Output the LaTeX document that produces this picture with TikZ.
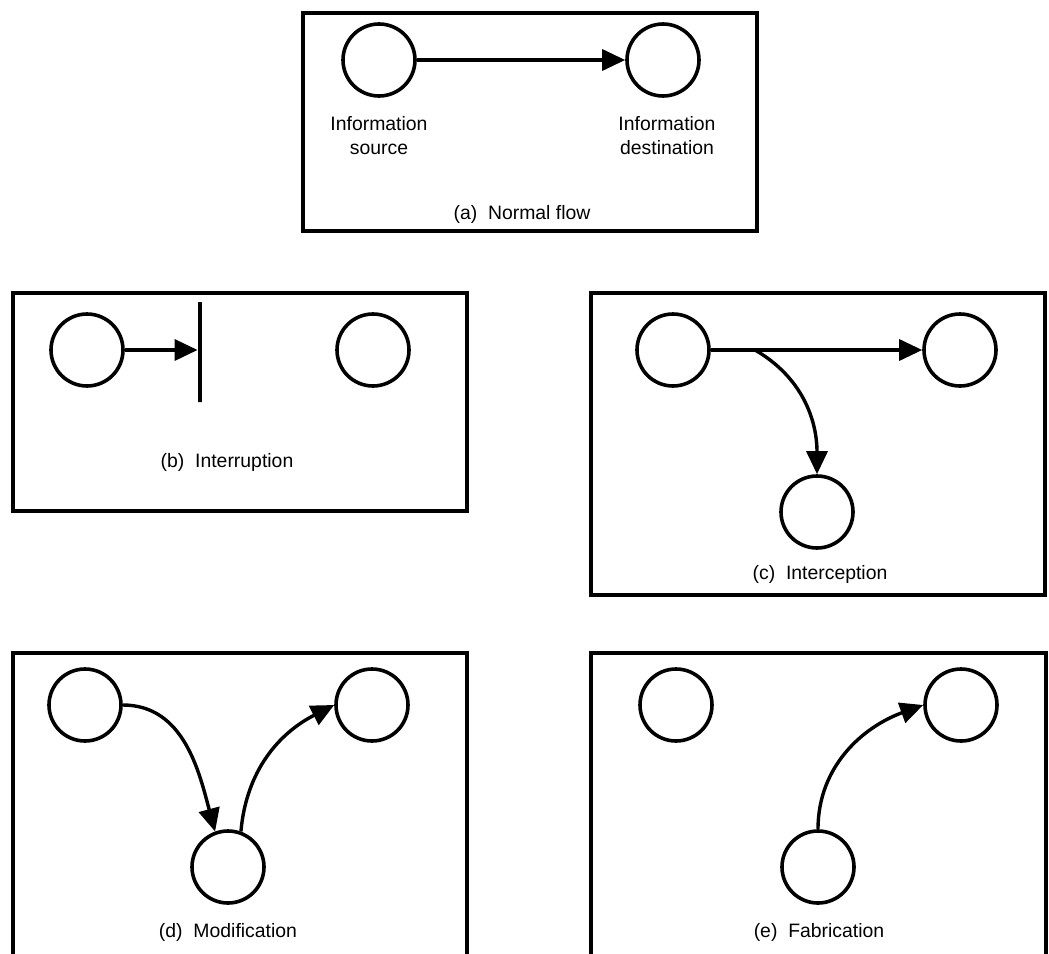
\documentclass[tikz,border=0pt]{standalone}
\usepackage{fontspec}
\setmainfont{Liberation Sans}
\usetikzlibrary{positioning,calc,arrows.meta}

\begin{document}
\begin{tikzpicture}[x=0.5pt,y=-0.5pt]
		\tikzstyle{frame}=[draw, line width=2pt];
		\tikzstyle{party}=[draw, circle, line width=1.8pt, minimum size=36pt, inner sep=0pt];
		\tikzstyle{flow}=[line width=1.7pt, -{Triangle[length=11.5pt,width=10.5pt]}];
		\tikzstyle{label_small}=[align=center, font=\fontsize{9.7}{12}\selectfont, inner sep=0pt];
		\tikzstyle{block}=[draw, line width=2.4pt, minimum width=0pt, minimum height=50pt, inner sep=0pt];

		\useasboundingbox (0,0) rectangle (1049,953);

		\draw[frame] (303,13) rectangle (757,231);
		\node[party] (src_a) at (379,60) {};
		\node[party] (dst_a) at (663,60) {};
		\node[label_small, below = 9pt of src_a] {Information\\source};
		\node[label_small, below = 9pt of dst_a, xshift=2pt] {Information\\destination};
		\draw[flow] (src_a) -- (dst_a);
		\node[label_small] (cap_a) at (522,214) {(a)~ Normal flow};

		\draw[frame] (13,293) rectangle (467,511);
		\node[party] (src_b) at (87,350) {};
		\node[party] (dst_b) at (373,350) {};
		\node[block] (bar_b) at (200,352) {};
		\draw[flow] (src_b) -- (src_b -| bar_b.west);
		\node[label_small] (cap_b) at (227,462) {(b)~ Interruption};

		\draw[frame] (591,293) rectangle (1045,595);
		\node[party] (src_c) at (673,350) {};
		\node[party] (dst_c) at (960,350) {};
		\node[party] (cpy_c) at (817,512) {};
		\coordinate (tap_c) at (755,350);
		\draw[flow] (src_c) -- (dst_c);
		\draw[flow] (tap_c) to[out=-30,in=90] (cpy_c.north);
		\node[label_small] (cap_c) at (820,574) {(c)~ Interception};

		\draw[frame] (13,653) rectangle (467,980);
		\node[party] (src_d) at (85,705) {};
		\node[party] (dst_d) at (372,705) {};
		\node[party] (mod_d) at (228,867) {};
		\draw[flow] (src_d.east) to[out=0,in=105] (mod_d.110);
		\draw[flow] (mod_d.70) to[out=85,in=207] (dst_d.west);
		\node[label_small] (cap_d) at (228,932) {(d)~ Modification};

		\draw[frame] (591,653) rectangle (1046,980);
		\node[party] (src_e) at (676,705) {};
		\node[party] (dst_e) at (961,705) {};
		\node[party] (fab_e) at (818,867) {};
		\draw[flow] (fab_e.north) to[out=90,in=200] (dst_e.west);
		\node[label_small] (cap_e) at (819,932) {(e)~ Fabrication};
	\end{tikzpicture}
\end{document}
